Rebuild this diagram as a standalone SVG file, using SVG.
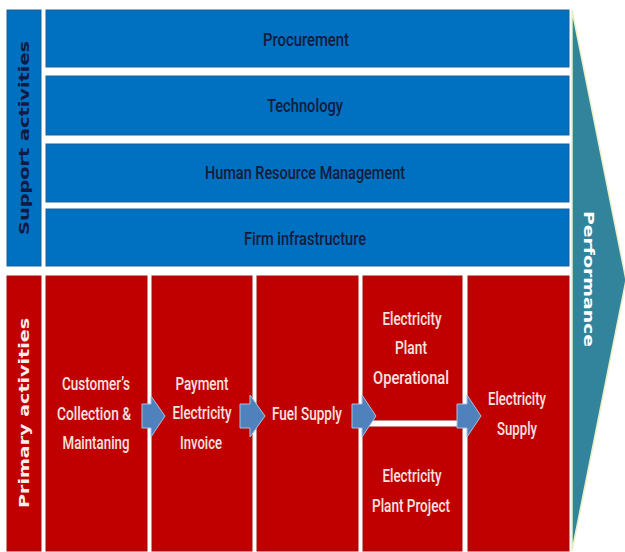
<svg xmlns="http://www.w3.org/2000/svg" width="625" height="552" viewBox="0 0 625 552">
  <style>
    .sup { fill: #0070C0; stroke: #1F5E96; stroke-width: 1; }
    .pri { fill: #C00000; stroke: #9E1010; stroke-width: 1; }
    .lbl { font-family: Roboto, "Liberation Sans", Arial, sans-serif; font-weight: 500; font-size: 19px; text-anchor: middle; dominant-baseline: central; }
    .sup-t { fill: #141B3C; }
    .pri-t { fill: #F6E2E0; }
    .side { font-family: "DejaVu Sans", Verdana, sans-serif; font-weight: bold; font-size: 14px; text-anchor: middle; dominant-baseline: central; }
    .arrow { fill: #4F81BD; stroke: #A9C2DE; stroke-width: 1; stroke-linejoin: round; }
  </style>

  <rect width="625" height="552" fill="#FFFFFF"/>

  <!-- performance wedge -->
  <g id="performance">
    <polygon points="572,10 626,280 572,551" fill="#31849B" stroke="#E8EFC8" stroke-width="1.5"/>
    <text class="side" x="589" y="279" fill="#FFFFFF" transform="rotate(90 589 279)" textLength="136" lengthAdjust="spacingAndGlyphs">Performance</text>
  </g>

  <!-- side labels -->
  <g id="support-label">
    <rect class="sup" x="7" y="10" width="34" height="256"/>
    <text class="side" x="24" y="138" fill="#0F1A45" transform="rotate(-90 24 138)" textLength="194" lengthAdjust="spacingAndGlyphs">Support activities</text>
  </g>
  <g id="primary-label">
    <rect class="pri" x="7" y="276" width="34" height="275"/>
    <text class="side" x="24" y="413" fill="#F8ECEA" transform="rotate(-90 24 413)" textLength="190" lengthAdjust="spacingAndGlyphs">Primary activities</text>
  </g>

  <!-- support activities -->
  <g id="procurement">
    <rect class="sup" x="46" y="10" width="523" height="57"/>
    <text class="lbl sup-t" x="306" y="39" textLength="86" lengthAdjust="spacingAndGlyphs">Procurement</text>
  </g>
  <g id="technology">
    <rect class="sup" x="46" y="76" width="523" height="59"/>
    <text class="lbl sup-t" x="305" y="105" textLength="76" lengthAdjust="spacingAndGlyphs">Technology</text>
  </g>
  <g id="hrm">
    <rect class="sup" x="46" y="144" width="523" height="58"/>
    <text class="lbl sup-t" x="305" y="172" textLength="200" lengthAdjust="spacingAndGlyphs">Human Resource Management</text>
  </g>
  <g id="infrastructure">
    <rect class="sup" x="46" y="209" width="523" height="57"/>
    <text class="lbl sup-t" x="305" y="238" textLength="122" lengthAdjust="spacingAndGlyphs">Firm infrastructure</text>
  </g>

  <!-- primary activities -->
  <g id="customer">
    <rect class="pri" x="46" y="276" width="101" height="275"/>
    <text class="lbl pri-t" x="96" y="383" textLength="68" lengthAdjust="spacingAndGlyphs">Customer’s</text>
    <text class="lbl pri-t" x="94" y="413" textLength="74" lengthAdjust="spacingAndGlyphs">Collection &amp;</text>
    <text class="lbl pri-t" x="96" y="442" textLength="67" lengthAdjust="spacingAndGlyphs">Maintaning</text>
  </g>
  <g id="payment">
    <rect class="pri" x="152" y="276" width="100" height="275"/>
    <text class="lbl pri-t" x="202" y="383" textLength="53" lengthAdjust="spacingAndGlyphs">Payment</text>
    <text class="lbl pri-t" x="202" y="412" textLength="59" lengthAdjust="spacingAndGlyphs">Electricity</text>
    <text class="lbl pri-t" x="201" y="442" textLength="42" lengthAdjust="spacingAndGlyphs">Invoice</text>
  </g>
  <g id="fuel">
    <rect class="pri" x="257" y="276" width="101" height="275"/>
    <text class="lbl pri-t" x="307" y="413" textLength="70" lengthAdjust="spacingAndGlyphs">Fuel Supply</text>
  </g>
  <g id="plant-operational">
    <rect class="pri" x="363" y="276" width="99" height="144"/>
    <text class="lbl pri-t" x="412" y="318" textLength="59" lengthAdjust="spacingAndGlyphs">Electricity</text>
    <text class="lbl pri-t" x="411" y="347" textLength="32" lengthAdjust="spacingAndGlyphs">Plant</text>
    <text class="lbl pri-t" x="411" y="377" textLength="76" lengthAdjust="spacingAndGlyphs">Operational</text>
  </g>
  <g id="plant-project">
    <rect class="pri" x="363" y="427" width="99" height="124"/>
    <text class="lbl pri-t" x="412" y="475" textLength="59" lengthAdjust="spacingAndGlyphs">Electricity</text>
    <text class="lbl pri-t" x="411" y="505" textLength="78" lengthAdjust="spacingAndGlyphs">Plant Project</text>
  </g>
  <g id="electricity-supply">
    <rect class="pri" x="468" y="276" width="101" height="275"/>
    <text class="lbl pri-t" x="517" y="398" textLength="58" lengthAdjust="spacingAndGlyphs">Electricity</text>
    <text class="lbl pri-t" x="517" y="428" textLength="40" lengthAdjust="spacingAndGlyphs">Supply</text>
  </g>

  <!-- flow arrows between primary activities -->
  <g id="connectors">
    <polygon class="arrow" points="142,404 151,404 151,396 165,416 151,437 151,428 142,428"/>
    <polygon class="arrow" points="240,404 250,404 250,395 265,416 250,437 250,428 240,428"/>
    <polygon class="arrow" points="352,404 362,404 362,395 376,416 362,437 362,428 352,428"/>
    <polygon class="arrow" points="457,404 467,404 467,395 481,416 467,437 467,428 457,428"/>
  </g>
</svg>
